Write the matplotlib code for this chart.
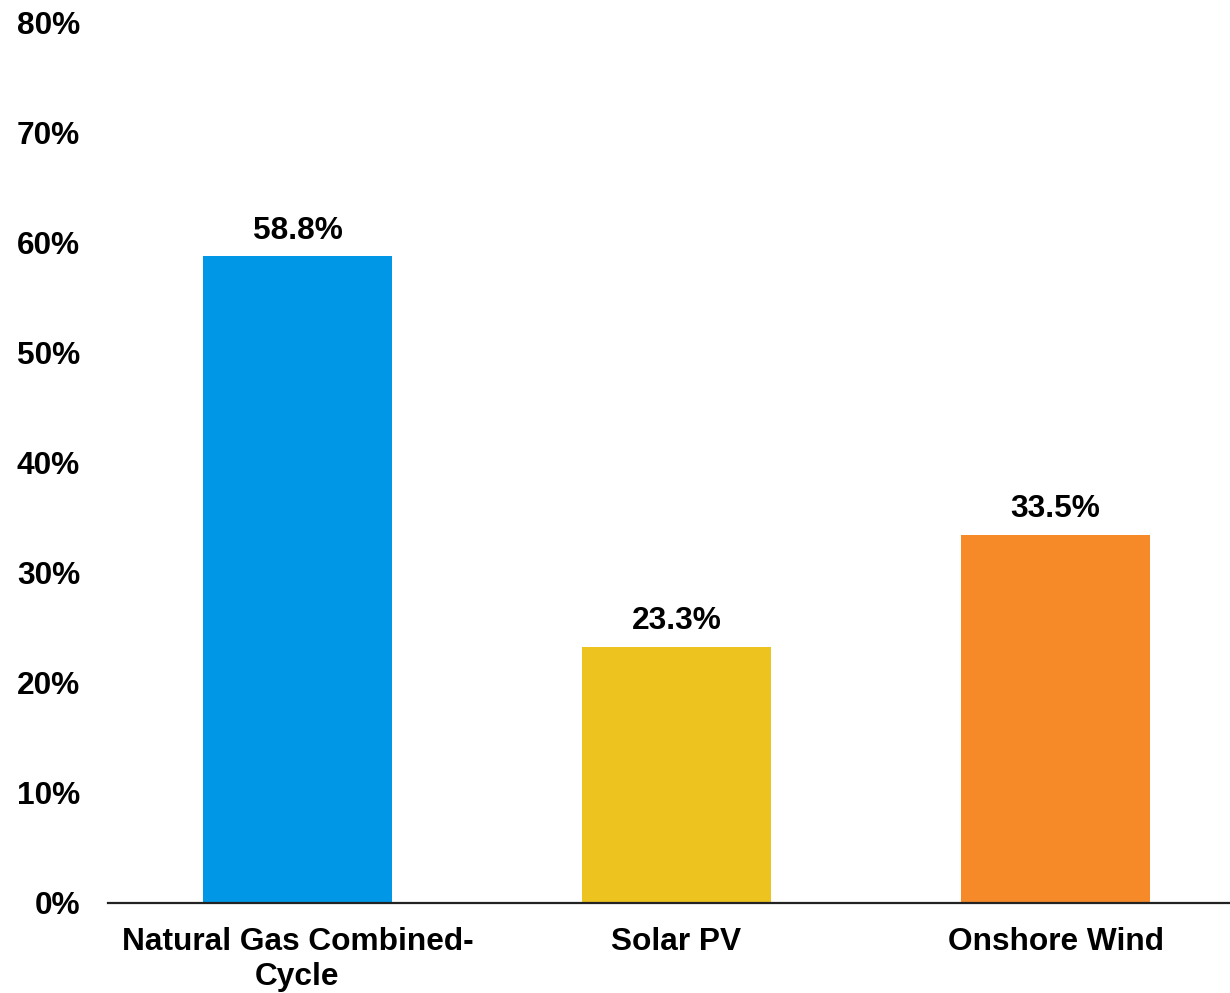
import matplotlib
matplotlib.use("Agg")
import matplotlib.pyplot as plt
from matplotlib.ticker import FuncFormatter

categories = ["Natural Gas Combined-\nCycle", "Solar PV", "Onshore Wind"]
values = [58.8, 23.3, 33.5]
colors = ["#0097E6", "#ECC31F", "#F68A29"]
yticks = [0, 10, 20, 30, 40, 50, 60, 70, 80]

plt.rcParams["font.family"] = ["Liberation Sans", "DejaVu Sans"]
plt.rcParams["font.weight"] = "bold"
FS = 22.8

fig = plt.figure(figsize=(12.30, 9.93), dpi=100)
ax = fig.add_axes([108 / 1230, 90 / 993, 1 - 108 / 1230, (903 - 23) / 993])

x = list(range(len(categories)))
ax.bar(x, values, width=0.5, color=colors, zorder=2)

for xi, v in zip(x, values):
    ax.annotate(f"{v:.1f}%", (xi, v), xytext=(0, 12.5), textcoords="offset points",
                ha="center", va="baseline", fontsize=FS, fontweight="bold",
                color="black")

ax.set_ylim(0, 80)
ax.set_xlim(-0.5, (1230 - 108) / 379 - 0.5)
ax.set_yticks(yticks)
ax.yaxis.set_major_formatter(FuncFormatter(lambda v, p: f"{v:.0f}%"))
ax.set_xticks(x)
ax.set_xticklabels(categories, fontsize=FS, fontweight="bold", linespacing=1.22)
ax.tick_params(axis="y", length=0, pad=20, labelsize=FS)
ax.tick_params(axis="x", length=0, pad=17)

for side in ["top", "right", "left"]:
    ax.spines[side].set_visible(False)
ax.spines["bottom"].set_color("#222222")
ax.spines["bottom"].set_linewidth(1.6)
ax.spines["bottom"].set_zorder(3)

fig.savefig("out.png", dpi=100)
